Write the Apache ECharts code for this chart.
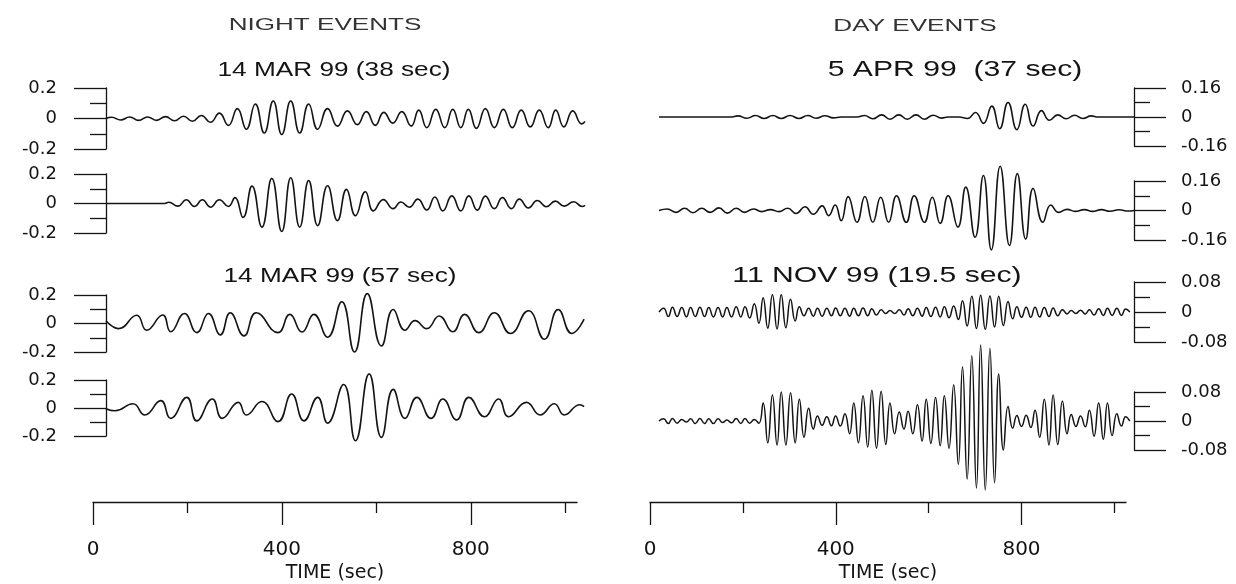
<!DOCTYPE html>
<html>
<head>
<meta charset="utf-8">
<script src="https://cdn.jsdelivr.net/npm/echarts@6/dist/echarts.min.js"></script>
<style>html,body{margin:0;background:#fff;}</style>
</head>
<body>
<div id="main" style="width:1236px;height:584px;"></div>
<script>
// ---- data: [time (s), amplitude] at the wave extrema ----
var night38a = [[28,0],[40,0.008],[59,-0.01],[78,0.01],[97,-0.012],[116,0.01],[135,-0.012],[154,0.012],[173,-0.015],[192,0.015],[211,-0.018],[230,0.02],[249,-0.025],[268,0.035],[287,-0.045],[306,0.065],[325,-0.07],[344,0.095],[363,-0.095],[382,0.115],[400,-0.105],[419,0.115],[438,-0.095],[457,0.095],[476,-0.07],[497,0.065],[518,-0.05],[539,0.05],[560,-0.04],[579,0.045],[598,-0.045],[616,0.04],[635,-0.03],[654,0.045],[674,-0.05],[690,0.055],[707,-0.06],[726,0.06],[745,-0.06],[762,0.06],[779,-0.06],[795,0.06],[812,-0.065],[831,0.065],[850,-0.06],[869,0.06],[888,-0.06],[907,0.055],[926,-0.055],[945,0.055],[964,-0.06],[980,0.055],[997,-0.055],[1016,0.05],[1035,-0.035],[1042,-0.02]];
var night38b = [[28,0],[150,0],[161,0.008],[180,-0.018],[198,0.025],[215,-0.02],[232,0.025],[249,-0.025],[268,0.025],[287,-0.02],[301,0.04],[318,-0.094],[337,0.118],[358,-0.16],[379,0.17],[400,-0.19],[419,0.175],[438,-0.16],[457,0.155],[476,-0.15],[497,0.12],[518,-0.116],[537,0.096],[556,-0.083],[577,0.08],[594,-0.05],[615,0.026],[636,-0.035],[652,0.01],[670,-0.025],[688,0.03],[707,-0.044],[724,0.044],[741,-0.05],[760,0.052],[779,-0.05],[796,0.052],[814,-0.045],[831,0.05],[850,-0.035],[867,0.04],[886,-0.035],[903,0.03],[922,-0.03],[941,0.02],[960,-0.022],[979,0.016],[998,-0.018],[1018,0.012],[1036,-0.02],[1042,-0.012]];
var night57a = [[28,0.02],[55,-0.036],[93,0.058],[114,-0.047],[148,0.06],[165,-0.058],[194,0.07],[220,-0.064],[245,0.07],[270,-0.08],[291,0.075],[320,-0.087],[346,0.075],[392,-0.064],[417,0.064],[443,-0.06],[468,0.064],[497,-0.096],[527,0.153],[554,-0.2],[581,0.21],[611,-0.158],[636,0.098],[661,-0.047],[682,0.02],[707,-0.036],[733,0.053],[762,-0.058],[787,0.064],[817,-0.064],[850,0.075],[884,-0.07],[922,0.09],[956,-0.11],[985,0.098],[1014,-0.07],[1040,0.03]];
var night57b = [[28,-0.005],[47,-0.02],[85,0.03],[110,-0.05],[144,0.053],[165,-0.074],[199,0.076],[220,-0.092],[253,0.064],[274,-0.074],[308,0.04],[325,-0.05],[358,0.046],[392,-0.097],[421,0.1],[447,-0.092],[476,0.076],[497,-0.108],[531,0.168],[556,-0.234],[585,0.244],[611,-0.21],[636,0.133],[661,-0.074],[686,0.076],[716,-0.074],[741,0.064],[770,-0.085],[796,0.076],[829,-0.062],[859,0.064],[880,-0.062],[918,0.04],[947,-0.05],[977,0.03],[998,-0.05],[1031,0.023],[1040,0.01]];

var day37a = [[20,0],[174,0],[190,0.006],[209,-0.007],[228,0.008],[246,-0.008],[265,0.008],[283,-0.008],[302,0.008],[321,-0.008],[340,0.008],[358,-0.007],[377,0.007],[395,-0.005],[412,0],[446,0],[462,0.008],[480,-0.01],[499,0.012],[517,-0.012],[536,0.012],[554,-0.012],[573,0.012],[591,-0.012],[610,0.01],[628,-0.006],[642,0],[665,0],[684,-0.008],[701,0.025],[718,-0.035],[736,0.06],[753,-0.065],[771,0.08],[790,-0.07],[808,0.07],[825,-0.05],[843,0.035],[860,-0.018],[878,0.012],[896,-0.01],[914,0.01],[932,-0.008],[950,0.006],[965,0],[1042,0]];
var day37b = [[20,0],[38,0.008],[56,-0.01],[75,0.012],[93,-0.012],[112,0.012],[130,-0.01],[149,0.014],[167,-0.014],[186,0.012],[204,-0.01],[223,0.008],[241,-0.006],[260,0.005],[278,-0.006],[297,0.012],[315,-0.016],[334,0.02],[352,-0.02],[371,0.025],[385,-0.028],[399,0.03],[412,-0.055],[427,0.075],[446,-0.064],[463,0.076],[480,-0.064],[497,0.072],[514,-0.064],[531,0.08],[552,-0.064],[569,0.08],[591,-0.064],[608,0.072],[625,-0.07],[642,0.08],[663,-0.09],[680,0.127],[700,-0.145],[718,0.19],[735,-0.214],[754,0.24],[774,-0.19],[791,0.2],[809,-0.155],[825,0.12],[846,-0.064],[863,0.03],[880,-0.01],[898,0.006],[916,-0.005],[935,0.005],[953,-0.005],[972,0.005],[990,-0.004],[1010,0.004],[1030,-0.003],[1042,0]];

var nov99Times = [20,30,40,49,59,69,79,88,98,108,118,127,137,147,157,166,176,186,196,205,215,225,235,244,254,264,274,283,293,303,313,322,332,342,352,361,371,381,391,400,410,420,430,439,449,459,469,478,488,498,508,517,527,537,547,556,566,576,586,595,605,615,625,634,644,654,664,673,683,693,703,712,722,732,742,751,761,771,781,790,800,810,820,829,839,849,859,868,878,888,898,907,917,927,937,946,956,966,976,985,995,1005,1015,1024,1033];
var nov99a = [0,0.01,-0.012,0.013,-0.012,0.012,-0.013,0.012,-0.012,0.013,-0.012,0.012,-0.013,0.012,-0.013,0.012,-0.013,0.014,-0.013,0.014,-0.016,0.022,-0.03,0.038,-0.043,0.046,-0.045,0.046,-0.042,0.034,-0.024,0.014,-0.01,0.01,-0.011,0.01,-0.011,0.01,-0.01,0.011,-0.01,0.01,-0.011,0.01,-0.01,0.011,-0.01,0.009,-0.008,0.006,-0.004,0.004,-0.004,0.006,-0.008,0.009,-0.01,0.01,-0.011,0.012,-0.012,0.013,-0.013,0.014,-0.015,0.016,-0.02,0.03,-0.037,0.042,-0.044,0.045,-0.046,0.043,-0.04,0.042,-0.036,0.028,-0.018,0.014,-0.014,0.013,-0.014,0.013,-0.013,0.012,-0.012,0.011,-0.01,0.006,-0.005,0.004,-0.004,0.005,-0.005,0.006,-0.008,0.009,-0.009,0.01,-0.009,0.01,-0.009,0.008,0];
var nov99b = [0,0.006,-0.007,0.007,-0.006,0.004,-0.003,0.006,-0.007,0.007,-0.007,0.006,-0.007,0.006,-0.004,0.003,-0.005,0.007,-0.007,0.007,-0.006,0.004,-0.006,0.05,-0.06,0.072,-0.066,0.08,-0.066,0.078,-0.06,0.06,-0.045,0.035,-0.022,0.014,-0.012,0.012,-0.013,0.014,-0.014,0.02,-0.035,0.05,-0.06,0.07,-0.072,0.085,-0.075,0.082,-0.065,0.05,-0.035,0.025,-0.022,0.027,-0.035,0.045,-0.055,0.06,-0.062,0.065,-0.068,0.07,-0.075,0.1,-0.12,0.15,-0.16,0.18,-0.185,0.21,-0.19,0.2,-0.17,0.13,-0.08,0.04,-0.02,0.015,-0.015,0.016,-0.018,0.03,-0.045,0.06,-0.066,0.072,-0.065,0.055,-0.035,0.018,-0.015,0.014,-0.016,0.03,-0.042,0.05,-0.05,0.05,-0.04,0.02,-0.014,0.012,0];

var timeMajor = [0, 400, 800];
var timeMinor = [200, 600, 1000];

// ---- layout ----
var INK = '#141414';
var chart = echarts.init(document.getElementById('main'));

function pairs(times, vals) {
    return times.map(function (t, i) { return [t, vals[i]]; });
}

var traces = [
    { box: {left:106, top:88,  width:480, height:61}, x: [28,1044], y: 0.2,  side: 'left',  data: night38a },
    { box: {left:106, top:174, width:480, height:59}, x: [28,1044], y: 0.2,  side: 'left',  data: night38b },
    { box: {left:106, top:295, width:480, height:57}, x: [28,1044], y: 0.2,  side: 'left',  data: night57a },
    { box: {left:106, top:380, width:480, height:56}, x: [28,1044], y: 0.2,  side: 'left',  data: night57b },
    { box: {left:659, top:88,  width:475, height:58}, x: [20,1042], y: 0.16, side: 'right', data: day37a },
    { box: {left:659, top:181, width:475, height:59}, x: [20,1042], y: 0.16, side: 'right', data: day37b },
    { box: {left:659, top:282, width:475, height:60}, x: [20,1042], y: 0.08, side: 'right', data: pairs(nov99Times, nov99a) },
    { box: {left:659, top:392, width:475, height:58}, x: [20,1042], y: 0.08, side: 'right', data: pairs(nov99Times, nov99b) }
];

var grid = [], xAxis = [], yAxis = [], series = [];
traces.forEach(function (p, i) {
    grid.push(p.box);
    xAxis.push({ gridIndex: i, type: 'value', min: p.x[0], max: p.x[1], show: false });
    yAxis.push({
        gridIndex: i, type: 'value', min: -p.y, max: p.y, interval: p.y, position: p.side,
        axisLine: { show: true, onZero: false, lineStyle: { color: INK, width: 1.3 } },
        axisTick: { show: true, length: 32, lineStyle: { color: INK, width: 1.3 } },
        minorTick: { show: true, splitNumber: 2, length: 16, lineStyle: { color: INK, width: 1.3 } },
        splitLine: { show: false },
        axisLabel: { margin: p.side === 'left' ? 49 : 47, color: INK, fontFamily: 'DejaVu Sans', fontSize: 18 }
    });
    series.push({
        type: 'line', xAxisIndex: i, yAxisIndex: i, data: p.data,
        smooth: 0.5, symbol: 'none', clip: false,
        lineStyle: { color: INK, width: i >= 6 ? 1.5 : 1.6 }
    });
});

// time axes at the bottom
var timeBoxes = [
    { left: 93,  top: 450, width: 484, height: 52 },
    { left: 650, top: 454, width: 476, height: 52 }
];
timeBoxes.forEach(function (b, k) {
    var gi = grid.length;
    grid.push(b);
    yAxis.push({ gridIndex: gi, type: 'value', show: false });
    xAxis.push({
        gridIndex: gi, type: 'value', min: 0, max: 1025, position: 'bottom',
        name: 'TIME (sec)', nameLocation: 'middle', nameGap: 62,
        nameTextStyle: { color: INK, fontFamily: 'DejaVu Sans', fontSize: 19 },
        axisLine: { show: true, onZero: false, lineStyle: { color: INK, width: 1.3 } },
        axisTick: { show: true, customValues: timeMajor, length: 23, lineStyle: { color: INK, width: 1.3 } },
        axisLabel: { customValues: timeMajor, margin: 38, color: INK, fontFamily: 'DejaVu Sans', fontSize: 20 },
        splitLine: { show: false }
    });
    xAxis.push({
        gridIndex: gi, type: 'value', min: 0, max: 1025, position: 'bottom',
        axisLine: { show: false },
        axisTick: { show: true, customValues: timeMinor, length: 11, lineStyle: { color: INK, width: 1.3 } },
        axisLabel: { show: false },
        splitLine: { show: false }
    });
});

function label(text, x, y, size, sx, fill) {
    return {
        type: 'text', x: x, y: y, scaleX: sx,
        style: { text: text, font: size + 'px "Liberation Sans"', fill: fill || INK, align: 'center', verticalAlign: 'middle' }
    };
}

chart.setOption({
    animation: false,
    backgroundColor: '#fff',
    grid: grid,
    xAxis: xAxis,
    yAxis: yAxis,
    series: series,
    graphic: [
        label('NIGHT EVENTS', 325, 26, 16, 1.63, '#333'),
        label('DAY EVENTS', 915, 27, 16, 1.63, '#333'),
        label('14 MAR 99 (38 sec)', 334, 70, 20, 1.31),
        label('14 MAR 99 (57 sec)', 340, 276, 20, 1.31),
        label('5 APR 99  (37 sec)', 955, 70, 22, 1.37),
        label('11 NOV 99 (19.5 sec)', 877, 276, 22, 1.37)
    ]
});
</script>
</body>
</html>
